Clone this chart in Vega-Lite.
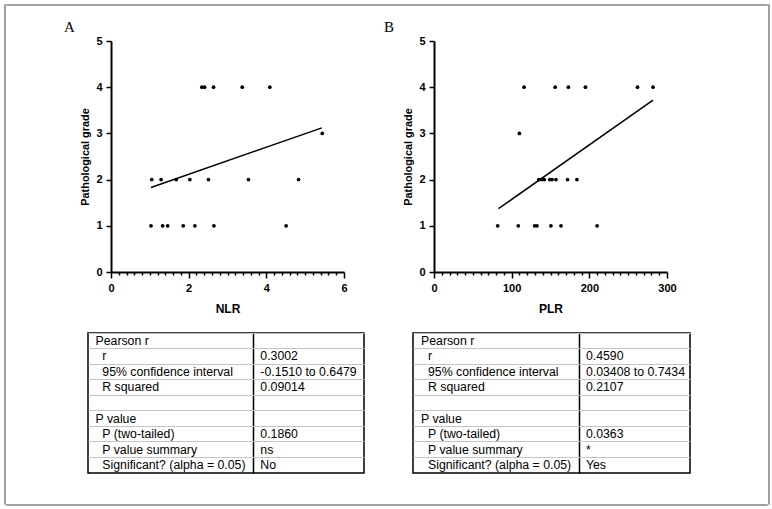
{
  "$schema": "https://vega.github.io/schema/vega-lite/v6.json",
  "padding": {"left": 4, "top": 4, "right": 0, "bottom": 0},
  "background": "white",
  "config": {
    "view": {"stroke": null},
    "font": "Liberation Sans",
    "axis": {
      "labelFont": "Liberation Sans", "labelFontWeight": "bold", "labelFontSize": 11, "labelColor": "black",
      "titleFont": "Liberation Sans", "titleFontWeight": "bold", "titleFontSize": 10.9, "titleColor": "black",
      "domainColor": "black", "domainWidth": 2, "tickColor": "black", "tickWidth": 1.5, "grid": false
    }
  },
  "datasets": {
    "nlr": [
      {"NLR": 2.34, "grade": 4}, {"NLR": 2.41, "grade": 4}, {"NLR": 2.64, "grade": 4}, {"NLR": 3.38, "grade": 4}, {"NLR": 4.09, "grade": 4},
      {"NLR": 5.44, "grade": 3},
      {"NLR": 1.05, "grade": 2}, {"NLR": 1.29, "grade": 2}, {"NLR": 1.68, "grade": 2}, {"NLR": 2.03, "grade": 2}, {"NLR": 2.51, "grade": 2}, {"NLR": 3.54, "grade": 2}, {"NLR": 4.83, "grade": 2},
      {"NLR": 1.03, "grade": 1}, {"NLR": 1.33, "grade": 1}, {"NLR": 1.46, "grade": 1}, {"NLR": 1.86, "grade": 1}, {"NLR": 2.16, "grade": 1}, {"NLR": 2.65, "grade": 1}, {"NLR": 4.51, "grade": 1}
    ],
    "nlrFit": [{"NLR": 1.03, "grade": 1.83}, {"NLR": 5.43, "grade": 3.12}],
    "plr": [
      {"PLR": 116, "grade": 4}, {"PLR": 156, "grade": 4}, {"PLR": 173, "grade": 4}, {"PLR": 195, "grade": 4}, {"PLR": 262, "grade": 4}, {"PLR": 282, "grade": 4},
      {"PLR": 110, "grade": 3},
      {"PLR": 135, "grade": 2}, {"PLR": 138.5, "grade": 2}, {"PLR": 142, "grade": 2}, {"PLR": 149, "grade": 2}, {"PLR": 152, "grade": 2}, {"PLR": 157, "grade": 2}, {"PLR": 172, "grade": 2}, {"PLR": 184, "grade": 2},
      {"PLR": 82, "grade": 1}, {"PLR": 108.5, "grade": 1}, {"PLR": 129.5, "grade": 1}, {"PLR": 132.5, "grade": 1}, {"PLR": 150.5, "grade": 1}, {"PLR": 163.5, "grade": 1}, {"PLR": 210, "grade": 1}
    ],
    "plrFit": [{"PLR": 83, "grade": 1.37}, {"PLR": 282, "grade": 3.72}],
    "tableA": [
      {"row": 0, "col": "label", "level": "header", "text": "Pearson r"}, {"row": 0, "col": "value", "level": "item", "text": ""},
      {"row": 1, "col": "label", "level": "item", "text": "r"}, {"row": 1, "col": "value", "level": "item", "text": "0.3002"},
      {"row": 2, "col": "label", "level": "item", "text": "95% confidence interval"}, {"row": 2, "col": "value", "level": "item", "text": "-0.1510 to 0.6479"},
      {"row": 3, "col": "label", "level": "item", "text": "R squared"}, {"row": 3, "col": "value", "level": "item", "text": "0.09014"},
      {"row": 4, "col": "label", "level": "item", "text": ""}, {"row": 4, "col": "value", "level": "item", "text": ""},
      {"row": 5, "col": "label", "level": "header", "text": "P value"}, {"row": 5, "col": "value", "level": "item", "text": ""},
      {"row": 6, "col": "label", "level": "item", "text": "P (two-tailed)"}, {"row": 6, "col": "value", "level": "item", "text": "0.1860"},
      {"row": 7, "col": "label", "level": "item", "text": "P value summary"}, {"row": 7, "col": "value", "level": "item", "text": "ns"},
      {"row": 8, "col": "label", "level": "item", "text": "Significant? (alpha = 0.05)"}, {"row": 8, "col": "value", "level": "item", "text": "No"}
    ],
    "tableB": [
      {"row": 0, "col": "label", "level": "header", "text": "Pearson r"}, {"row": 0, "col": "value", "level": "item", "text": ""},
      {"row": 1, "col": "label", "level": "item", "text": "r"}, {"row": 1, "col": "value", "level": "item", "text": "0.4590"},
      {"row": 2, "col": "label", "level": "item", "text": "95% confidence interval"}, {"row": 2, "col": "value", "level": "item", "text": "0.03408 to 0.7434"},
      {"row": 3, "col": "label", "level": "item", "text": "R squared"}, {"row": 3, "col": "value", "level": "item", "text": "0.2107"},
      {"row": 4, "col": "label", "level": "item", "text": ""}, {"row": 4, "col": "value", "level": "item", "text": ""},
      {"row": 5, "col": "label", "level": "header", "text": "P value"}, {"row": 5, "col": "value", "level": "item", "text": ""},
      {"row": 6, "col": "label", "level": "item", "text": "P (two-tailed)"}, {"row": 6, "col": "value", "level": "item", "text": "0.0363"},
      {"row": 7, "col": "label", "level": "item", "text": "P value summary"}, {"row": 7, "col": "value", "level": "item", "text": "*"},
      {"row": 8, "col": "label", "level": "item", "text": "Significant? (alpha = 0.05)"}, {"row": 8, "col": "value", "level": "item", "text": "Yes"}
    ]
  },
  "hconcat": [
    {"width": 0.01, "height": 499, "view": {"stroke": "#808080", "strokeWidth": 1.5}, "data": {"values": []}, "mark": {"type": "point", "opacity": 0}, "encoding": {}},
    {
      "vconcat": [
        {"width": 760, "height": 0.01, "view": {"stroke": "#808080", "strokeWidth": 1.5}, "data": {"values": []}, "mark": {"type": "point", "opacity": 0}, "encoding": {}},
        {
          "vconcat": [
            {
              "vconcat": [
                {
                  "hconcat": [
                    {"width": 57, "height": 1, "data": {"values": []}, "mark": {"type": "point", "opacity": 0}, "encoding": {}},
                    {
                      "hconcat": [
                        {
                          "width": 233, "height": 231,
                          "title": {"text": "A", "anchor": "start", "frame": "group", "dx": -47, "offset": 0, "font": "Liberation Serif", "fontSize": 15, "fontWeight": "normal", "color": "black"},
                          "layer": [
                            {
                              "data": {"name": "nlr"},
                              "mark": {"type": "point", "filled": true, "size": 14, "color": "black", "opacity": 1},
                              "encoding": {
                                "x": {"field": "NLR", "type": "quantitative", "scale": {"domain": [0, 6], "nice": false},
                                  "axis": {"title": "NLR", "tickCount": 30, "labelFlush": false, "labelOverlap": false, "labelPadding": 4, "titlePadding": 10, "titleFontSize": 12,
                                    "labelExpr": "abs(datum.value / 2 - round(datum.value / 2)) < 1e-6 ? format(datum.value, 'd') : ''",
                                    "tickSize": {"condition": {"test": "abs(datum.value / 2 - round(datum.value / 2)) < 1e-6", "value": 6}, "value": 3}}},
                                "y": {"field": "grade", "type": "quantitative", "scale": {"domain": [0, 5], "nice": false},
                                  "axis": {"title": "Pathological grade", "values": [0, 1, 2, 3, 4, 5], "tickSize": 5, "labelPadding": 4, "titlePadding": 5}}
                              }
                            },
                            {
                              "data": {"name": "nlrFit"},
                              "mark": {"type": "line", "color": "black", "strokeWidth": 1.5},
                              "encoding": {"x": {"field": "NLR", "type": "quantitative"}, "y": {"field": "grade", "type": "quantitative"}}
                            }
                          ]
                        },
                        {
                          "width": 233, "height": 231,
                          "title": {"text": "B", "anchor": "start", "frame": "group", "dx": -50, "offset": 0, "font": "Liberation Serif", "fontSize": 15, "fontWeight": "normal", "color": "black"},
                          "layer": [
                            {
                              "data": {"name": "plr"},
                              "mark": {"type": "point", "filled": true, "size": 14, "color": "black", "opacity": 1},
                              "encoding": {
                                "x": {"field": "PLR", "type": "quantitative", "scale": {"domain": [0, 300], "nice": false},
                                  "axis": {"title": "PLR", "tickCount": 30, "labelFlush": false, "labelOverlap": false, "labelPadding": 4, "titlePadding": 10, "titleFontSize": 12,
                                    "labelExpr": "abs(datum.value / 100 - round(datum.value / 100)) < 1e-6 ? format(datum.value, 'd') : ''",
                                    "tickSize": {"condition": {"test": "abs(datum.value / 100 - round(datum.value / 100)) < 1e-6", "value": 6}, "value": 3}}},
                                "y": {"field": "grade", "type": "quantitative", "scale": {"domain": [0, 5], "nice": false},
                                  "axis": {"title": "Pathological grade", "values": [0, 1, 2, 3, 4, 5], "tickSize": 5, "labelPadding": 4, "titlePadding": 5}}
                              }
                            },
                            {
                              "data": {"name": "plrFit"},
                              "mark": {"type": "line", "color": "black", "strokeWidth": 1.5},
                              "encoding": {"x": {"field": "PLR", "type": "quantitative"}, "y": {"field": "grade", "type": "quantitative"}}
                            }
                          ]
                        }
                      ],
                      "spacing": 36
                    }
                  ],
                  "spacing": 0
                },
                {
                  "hconcat": [
                    {"width": 80, "height": 1, "data": {"values": []}, "mark": {"type": "point", "opacity": 0}, "encoding": {}},
                    {
                      "hconcat": [
                        {
                          "width": 276, "height": 140,
                          "view": {"stroke": "black", "strokeWidth": 1.5},
                          "data": {"name": "tableA"},
                          "encoding": {
                            "y": {"field": "row", "type": "ordinal", "sort": "ascending", "scale": {"type": "band", "paddingInner": 0, "paddingOuter": 0},
                              "axis": {"title": null, "labels": false, "ticks": false, "domain": false, "grid": true, "gridColor": "#c4c4c4", "gridWidth": 1, "bandPosition": 0}},
                            "x": {"field": "col", "type": "nominal", "bandPosition": 0, "scale": {"type": "band", "paddingInner": 0, "paddingOuter": 0},
                              "axis": {"title": null, "labels": false, "ticks": false, "domain": false, "grid": true, "gridColor": "black", "gridWidth": 1.5, "values": ["value"], "bandPosition": 0.2}},
                            "text": {"field": "text"}
                          },
                          "layer": [
                            {"transform": [{"filter": "datum.col === 'label' && datum.level === 'header'"}], "mark": {"type": "text", "align": "left", "baseline": "middle", "dx": 7.5, "font": "Liberation Sans", "fontSize": 12.3, "color": "black"}},
                            {"transform": [{"filter": "datum.col === 'label' && datum.level !== 'header'"}], "mark": {"type": "text", "align": "left", "baseline": "middle", "dx": 14.3, "font": "Liberation Sans", "fontSize": 12.3, "color": "black"}},
                            {"transform": [{"filter": "datum.col === 'value'"}], "mark": {"type": "text", "align": "left", "baseline": "middle", "dx": 6.7, "font": "Liberation Sans", "fontSize": 12.3, "color": "black"},
                              "encoding": {"x": {"field": "col", "type": "nominal", "bandPosition": 0.2, "scale": {"type": "band", "paddingInner": 0, "paddingOuter": 0},
                                "axis": {"title": null, "labels": false, "ticks": false, "domain": false, "grid": true, "gridColor": "black", "gridWidth": 1.5, "values": ["value"], "bandPosition": 0.2}}}}
                          ]
                        },
                        {
                          "width": 277, "height": 140,
                          "view": {"stroke": "black", "strokeWidth": 1.5},
                          "data": {"name": "tableB"},
                          "encoding": {
                            "y": {"field": "row", "type": "ordinal", "sort": "ascending", "scale": {"type": "band", "paddingInner": 0, "paddingOuter": 0},
                              "axis": {"title": null, "labels": false, "ticks": false, "domain": false, "grid": true, "gridColor": "#c4c4c4", "gridWidth": 1, "bandPosition": 0}},
                            "x": {"field": "col", "type": "nominal", "bandPosition": 0, "scale": {"type": "band", "paddingInner": 0, "paddingOuter": 0},
                              "axis": {"title": null, "labels": false, "ticks": false, "domain": false, "grid": true, "gridColor": "black", "gridWidth": 1.5, "values": ["value"], "bandPosition": 0.2}},
                            "text": {"field": "text"}
                          },
                          "layer": [
                            {"transform": [{"filter": "datum.col === 'label' && datum.level === 'header'"}], "mark": {"type": "text", "align": "left", "baseline": "middle", "dx": 8, "font": "Liberation Sans", "fontSize": 12.3, "color": "black"}},
                            {"transform": [{"filter": "datum.col === 'label' && datum.level !== 'header'"}], "mark": {"type": "text", "align": "left", "baseline": "middle", "dx": 15, "font": "Liberation Sans", "fontSize": 12.3, "color": "black"}},
                            {"transform": [{"filter": "datum.col === 'value'"}], "mark": {"type": "text", "align": "left", "baseline": "middle", "dx": 6.7, "font": "Liberation Sans", "fontSize": 12.3, "color": "black"},
                              "encoding": {"x": {"field": "col", "type": "nominal", "bandPosition": 0.2, "scale": {"type": "band", "paddingInner": 0, "paddingOuter": 0},
                                "axis": {"title": null, "labels": false, "ticks": false, "domain": false, "grid": true, "gridColor": "black", "gridWidth": 1.5, "values": ["value"], "bandPosition": 0.2}}}}
                          ]
                        }
                      ],
                      "spacing": 47
                    }
                  ],
                  "spacing": 0
                }
              ],
              "spacing": 18
            },
            {"width": 760, "height": 0.01, "view": {"stroke": "#808080", "strokeWidth": 1.5}, "data": {"values": []}, "mark": {"type": "point", "opacity": 0}, "encoding": {}}
          ],
          "spacing": 30
        }
      ],
      "spacing": 14
    },
    {"width": 0.01, "height": 499, "view": {"stroke": "#808080", "strokeWidth": 1.5}, "data": {"values": []}, "mark": {"type": "point", "opacity": 0}, "encoding": {}}
  ],
  "spacing": 0
}
